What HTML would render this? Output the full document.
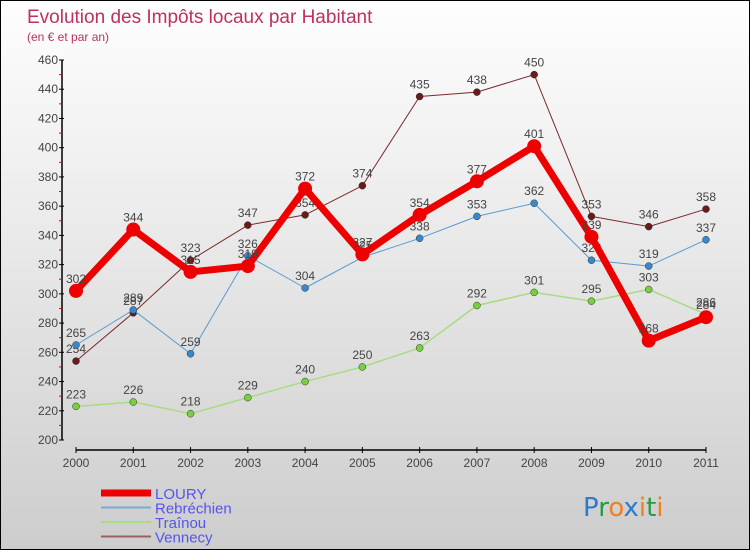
<!DOCTYPE html>
<html><head><meta charset="utf-8"><style>
body{margin:0;}
#c{width:748px;height:548px;border:1px solid #000;background:linear-gradient(#fefefe,#f0f0f0 30%,#cdcdcd);position:relative;overflow:hidden;font-family:"Liberation Sans",sans-serif;}
</style></head><body>
<div id="c">
<svg id="s" width="748" height="548"></svg>
</div>
<script>
const years=[2000,2001,2002,2003,2004,2005,2006,2007,2008,2009,2010,2011];
const yTicks=[200,220,240,260,280,300,320,340,360,380,400,420,440,460];
const loury=[302,344,315,319,372,327,354,377,401,339,268,284];
const rebrechien=[265,289,259,326,304,325,338,353,362,323,319,337];
const trainou=[223,226,218,229,240,250,263,292,301,295,303,286];
const vennecy=[254,287,323,347,354,374,435,438,450,353,346,358];
const NS="http://www.w3.org/2000/svg",s=document.getElementById('s');
const X=i=>75+i*(630/11), Y=v=>439-(v-200)*(380/260);
function el(t,a,p){const e=document.createElementNS(NS,t);for(const k in a)e.setAttribute(k,a[k]);(p||s).appendChild(e);return e;}
function tx(x,y,str,a){const e=el('text',Object.assign({x:x,y:y},a));e.textContent=str;return e;}
let t=tx(26,22,'Evolution des Impôts locaux par Habitant',{fill:'#c0305f','font-size':19});

t=tx(26,40,'(en € et par an)',{fill:'#c0305f','font-size':12});

// y axis
let ya=el('line',{x1:61,y1:59,x2:61,y2:439,stroke:'#000','stroke-width':1.5});

yTicks.forEach((v,i)=>{el('line',{x1:58,y1:Y(v),x2:63,y2:Y(v),stroke:'#000'});
 if(i<yTicks.length-1)el('line',{x1:58,y1:Y(v+10),x2:61,y2:Y(v+10),stroke:'#e00'});
 const l=tx(57,Y(v)+4,v,{fill:'#444','font-size':12,'text-anchor':'end'});
 });
let xa=el('line',{x1:X(0),y1:449,x2:X(11),y2:449,stroke:'#000','stroke-width':1.5});

years.forEach((y,i)=>{el('line',{x1:X(i),y1:446,x2:X(i),y2:452,stroke:'#000'});
 const l=tx(X(i),466,y,{fill:'#444','font-size':12,'text-anchor':'middle'});
 });
const series=[
 {n:'vennecy',d:vennecy,c:'#7a2a2a',w:1,r:3.5,f:'#6a1a1a'},
 {n:'rebrechien',d:rebrechien,c:'#5a9ad0',w:1,r:3.5,f:'#3a88cc'},
 {n:'trainou',d:trainou,c:'#a8dc80',w:1.5,r:3.5,f:'#78d040'},
 {n:'loury',d:loury,c:'#ee0000',w:7,r:7,f:'#ee0000'}];
series.forEach(se=>{
 const p=el('polyline',{points:se.d.map((v,i)=>X(i)+','+Y(v)).join(' '),fill:'none',stroke:se.c,'stroke-width':se.w,'stroke-linejoin':'round'});
 
 se.d.forEach((v,i)=>{const c=el('circle',{cx:X(i),cy:Y(v),r:se.r,fill:se.f,stroke:se.n=='loury'?'none':'#333','stroke-width':0.5});
  
  const l=tx(X(i),Y(v)-8,v,{fill:'#444','font-size':12,'text-anchor':'middle'});
  });
});
// legend
const leg=[['LOURY','#ee0000',7],['Rebréchien','#7aaad0',2],['Traînou','#a8dc80',2],['Vennecy','#9a6060',2]];
leg.forEach((L,i)=>{const y=492+i*14.5;
 const ln=el('line',{x1:100,y1:y,x2:150,y2:y,stroke:L[1],'stroke-width':L[2]});
 
 const l=tx(154,y+6,L[0],{fill:'#5555ee','font-size':15});
 });
const lg=el('text',{x:582,y:515,'font-size':26,'font-family':'DejaVu Sans, sans-serif'});

[['P','#2a7ad0'],['r','#2a9a40'],['o','#f08020'],['x','#2a7ad0'],['i','#f08020'],['t','#2a9a40'],['i','#f08020']].forEach(a=>{el('tspan',{fill:a[1]},lg).textContent=a[0];});
</script>
</body></html>
